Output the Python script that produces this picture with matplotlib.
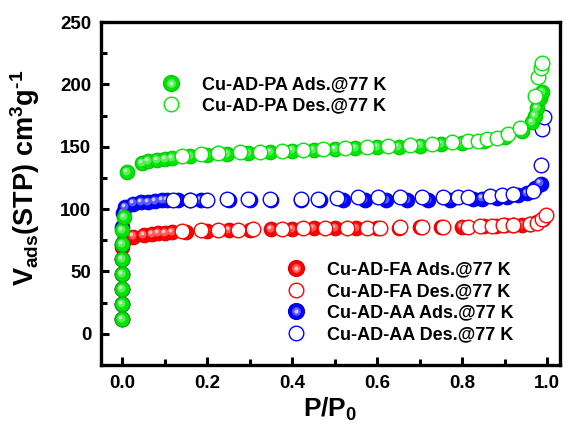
# -*- coding: utf-8 -*-
"""
N2 sorption isotherms at 77 K for Cu-AD-FA, Cu-AD-AA and Cu-AD-PA
"""

import numpy as np
import matplotlib.pyplot as plt
from matplotlib.transforms import offset_copy
from matplotlib.legend_handler import HandlerTuple
from matplotlib.ticker import MultipleLocator
import matplotlib.colors as mcolors


plt.rcParams["font.family"] = ["Liberation Sans", "DejaVu Sans"]
plt.rcParams["font.weight"] = "bold"
plt.rcParams["mathtext.fontset"] = "custom"
plt.rcParams["mathtext.rm"] = "Liberation Sans"
plt.rcParams["mathtext.bf"] = "Liberation Sans:bold"

# ---- isotherm data (P/P0, cm3/g STP) ----
fa_ads_p = [0.0, 0.0, 0.0, 0.0, 0.0, 0.0, 0.005, 0.026, 0.05, 0.07, 0.085,
            0.1, 0.118, 0.15, 0.2, 0.25, 0.3, 0.35, 0.4, 0.45, 0.5, 0.55,
            0.6, 0.65, 0.7, 0.75, 0.8, 0.85, 0.88, 0.9, 0.92, 0.94, 0.96,
            0.975, 0.99]
fa_ads_v = [12, 24, 36, 48, 60, 70, 75, 78, 79, 80, 80.5,
            81, 81.5, 82, 82.5, 83, 83.5, 84, 84, 84.5, 84.5, 85,
            85, 85, 85.5, 85.5, 86, 86.5, 86.5, 87, 87, 87.5, 88,
            89.5, 92]
fa_des_p = [0.141, 0.184, 0.226, 0.273, 0.308, 0.376, 0.426, 0.478, 0.529,
            0.576, 0.607, 0.654, 0.706, 0.755, 0.814, 0.842, 0.87, 0.896,
            0.92, 0.96, 0.976, 0.988, 0.997]
fa_des_v = [82.5, 83, 83.5, 83.5, 84, 84, 84.5, 84.5, 85,
            85, 85, 85.5, 85.5, 86, 86, 86.5, 86.5, 87,
            87, 88, 89, 92, 95]

aa_ads_p = [0.0, 0.0, 0.0, 0.0, 0.0, 0.0, 0.0, 0.002, 0.007, 0.026, 0.045,
            0.061, 0.078, 0.094, 0.106, 0.132, 0.16, 0.184, 0.25, 0.3, 0.35,
            0.42, 0.466, 0.52, 0.57, 0.62, 0.67, 0.72, 0.77, 0.826, 0.847,
            0.882, 0.906, 0.93, 0.953, 0.972, 0.984]
aa_ads_v = [12, 24, 36, 48, 60, 72, 86, 97, 102, 104.5, 105.5,
            106, 106.5, 107, 107, 107, 107, 107, 107, 107, 107,
            107, 107, 107, 107, 107, 107, 107, 107.5, 108, 108.5,
            109, 110, 111, 113, 117, 120.5]
aa_des_p = [0.12, 0.16, 0.2, 0.247, 0.296, 0.348, 0.42, 0.46, 0.505, 0.555,
            0.602, 0.654, 0.706, 0.755, 0.79, 0.814, 0.866, 0.894, 0.92,
            0.967, 0.984, 0.988, 0.993]
aa_des_v = [107, 107, 107.5, 108, 108, 108, 108, 108.5, 109, 109.5,
            109.5, 109.5, 109.5, 110, 110, 110, 110.5, 111, 112,
            114.5, 135, 164, 174]

pa_ads_p = [0.0, 0.0, 0.0, 0.0, 0.0, 0.0, 0.0, 0.003, 0.012, 0.047, 0.061,
            0.082, 0.1, 0.118, 0.16, 0.2, 0.247, 0.296, 0.348, 0.4, 0.45,
            0.5, 0.548, 0.6, 0.65, 0.7, 0.75, 0.8, 0.85, 0.9, 0.94, 0.965,
            0.972, 0.976, 0.983, 0.988]
pa_ads_v = [12, 24, 36, 48, 60, 72, 83.5, 94, 130, 137, 138.5,
            139.5, 140.5, 141, 142.5, 143.5, 144.5, 145, 146, 147, 147.5,
            148, 149, 149.5, 150, 151, 152, 153, 155, 158, 163, 170,
            175, 181, 189, 194]
pa_des_p = [0.141, 0.184, 0.226, 0.278, 0.325, 0.376, 0.426, 0.473, 0.525,
            0.576, 0.626, 0.678, 0.729, 0.776, 0.814, 0.838, 0.859, 0.882,
            0.908, 0.936, 0.972, 0.979, 0.984, 0.988]
pa_des_v = [143, 144, 145, 145.5, 146, 147, 147.5, 148, 149,
            150, 150.5, 151.5, 152.5, 153.5, 154.5, 155, 156, 157,
            160, 165, 191, 206, 213, 217]

labels = ["Cu-AD-FA Ads.@77 K", "Cu-AD-FA Des.@77 K",
          "Cu-AD-AA Ads.@77 K", "Cu-AD-AA Des.@77 K",
          "Cu-AD-PA Ads.@77 K", "Cu-AD-PA Des.@77 K"]
colors = ["#ff0000", "#0000ff", "#00e600"]


# ----------
def lighten(the_color, the_frac):
    rgb = np.array(mcolors.to_rgb(the_color))
    return tuple(rgb + (1.0 - rgb) * the_frac)


# ----------
def darken(the_color, the_frac):
    rgb = np.array(mcolors.to_rgb(the_color))
    return tuple(rgb * (1.0 - the_frac))


# ----------
def sphere_proxy(ax, the_color, the_size):
    # legend-only copy of a shaded ball (base + highlights, centred)
    the_parts = []
    for the_scale, the_frac in ((1.0, 0.0), (0.55, 0.35), (0.25, 0.8)):
        the_line, = ax.plot([], [], linestyle="none", marker="o",
                            markersize=the_size * the_scale,
                            markerfacecolor=lighten(the_color, the_frac),
                            markeredgecolor=darken(the_color, 0.15),
                            markeredgewidth=0.8 if the_scale == 1.0 else 0)
        the_parts.append(the_line)
    return tuple(the_parts)


# ----------
def plot_sphere(ax, x, y, the_color, the_size=10.5):
    # shaded ball: base disc + two highlights shifted up-left
    ax.plot(x, y, linestyle="none", marker="o", markersize=the_size,
            markerfacecolor=the_color,
            markeredgecolor=darken(the_color, 0.15),
            markeredgewidth=0.8)
    tr1 = offset_copy(ax.transData, fig=ax.figure, x=-0.8, y=0.8,
                      units="points")
    tr2 = offset_copy(ax.transData, fig=ax.figure, x=-1.5, y=1.5,
                      units="points")
    ax.plot(x, y, linestyle="none", marker="o", markersize=the_size * 0.55,
            markerfacecolor=lighten(the_color, 0.35), markeredgewidth=0,
            transform=tr1)
    ax.plot(x, y, linestyle="none", marker="o", markersize=the_size * 0.25,
            markerfacecolor=lighten(the_color, 0.8), markeredgewidth=0,
            transform=tr2)
    return sphere_proxy(ax, the_color, the_size * 1.1)


# ----------
def plot_open(ax, x, y, the_color, the_size=10.5):
    the_line, = ax.plot(x, y, linestyle="none", marker="o",
                        markersize=the_size, markerfacecolor="white",
                        markeredgecolor=the_color, markeredgewidth=1.0)
    return the_line


# ----------
def main():
    fig = plt.figure(figsize=(5.68, 4.33), dpi=100)
    ax = fig.add_axes([0.178, 0.157, 0.808, 0.792])

    h_fa_ads = plot_sphere(ax, fa_ads_p, fa_ads_v, colors[0])
    h_fa_des = plot_open(ax, fa_des_p, fa_des_v, colors[0])
    h_aa_ads = plot_sphere(ax, aa_ads_p, aa_ads_v, colors[1])
    h_aa_des = plot_open(ax, aa_des_p, aa_des_v, colors[1])
    h_pa_ads = plot_sphere(ax, pa_ads_p, pa_ads_v, colors[2])
    h_pa_des = plot_open(ax, pa_des_p, pa_des_v, colors[2])

    ax.set_xlim(-0.05, 1.03)
    ax.set_ylim(-25, 250)
    ax.xaxis.set_major_locator(MultipleLocator(0.2))
    ax.xaxis.set_minor_locator(MultipleLocator(0.1))
    ax.yaxis.set_major_locator(MultipleLocator(50))
    ax.yaxis.set_minor_locator(MultipleLocator(25))
    ax.tick_params(which="both", direction="in", top=False, right=False,
                   labelsize=13.5, width=2.2)
    ax.tick_params(which="major", length=6, pad=7)
    ax.tick_params(which="minor", length=4)
    for the_label in ax.get_xticklabels() + ax.get_yticklabels():
        the_label.set_fontweight("bold")
    for the_spine in ax.spines.values():
        the_spine.set_linewidth(2.4)

    ax.set_xlabel("P/P$_\\mathbf{0}$", fontsize=19, fontweight="bold",
                  labelpad=3)
    ax.set_ylabel("V$_\\mathbf{ads}$(STP) cm$^\\mathbf{3}$g$^\\mathbf{\u2010 1}$",
                  fontsize=19.5, fontweight="bold")
    ax.yaxis.set_label_coords(-0.128, 0.547)

    handler = {tuple: HandlerTuple(ndivide=1, pad=0)}
    leg_font = {"weight": "bold", "size": 13}

    leg1 = ax.legend([h_pa_ads, h_pa_des], labels[4:], loc="upper left",
                     bbox_to_anchor=(0.113, 0.863), frameon=False,
                     handler_map=handler, prop=leg_font, handlelength=1.2,
                     handletextpad=1.1, labelspacing=0.22,
                     borderaxespad=0)
    ax.add_artist(leg1)

    ax.legend([h_fa_ads, h_fa_des, h_aa_ads, h_aa_des], labels[:4],
              loc="upper left", bbox_to_anchor=(0.386, 0.323), frameon=False,
              handler_map=handler, prop=leg_font, handlelength=1.2,
              handletextpad=1.1, labelspacing=0.25, borderaxespad=0)

    fig.savefig("out.png", dpi=100)


# ----------
if __name__ == "__main__":
    main()
